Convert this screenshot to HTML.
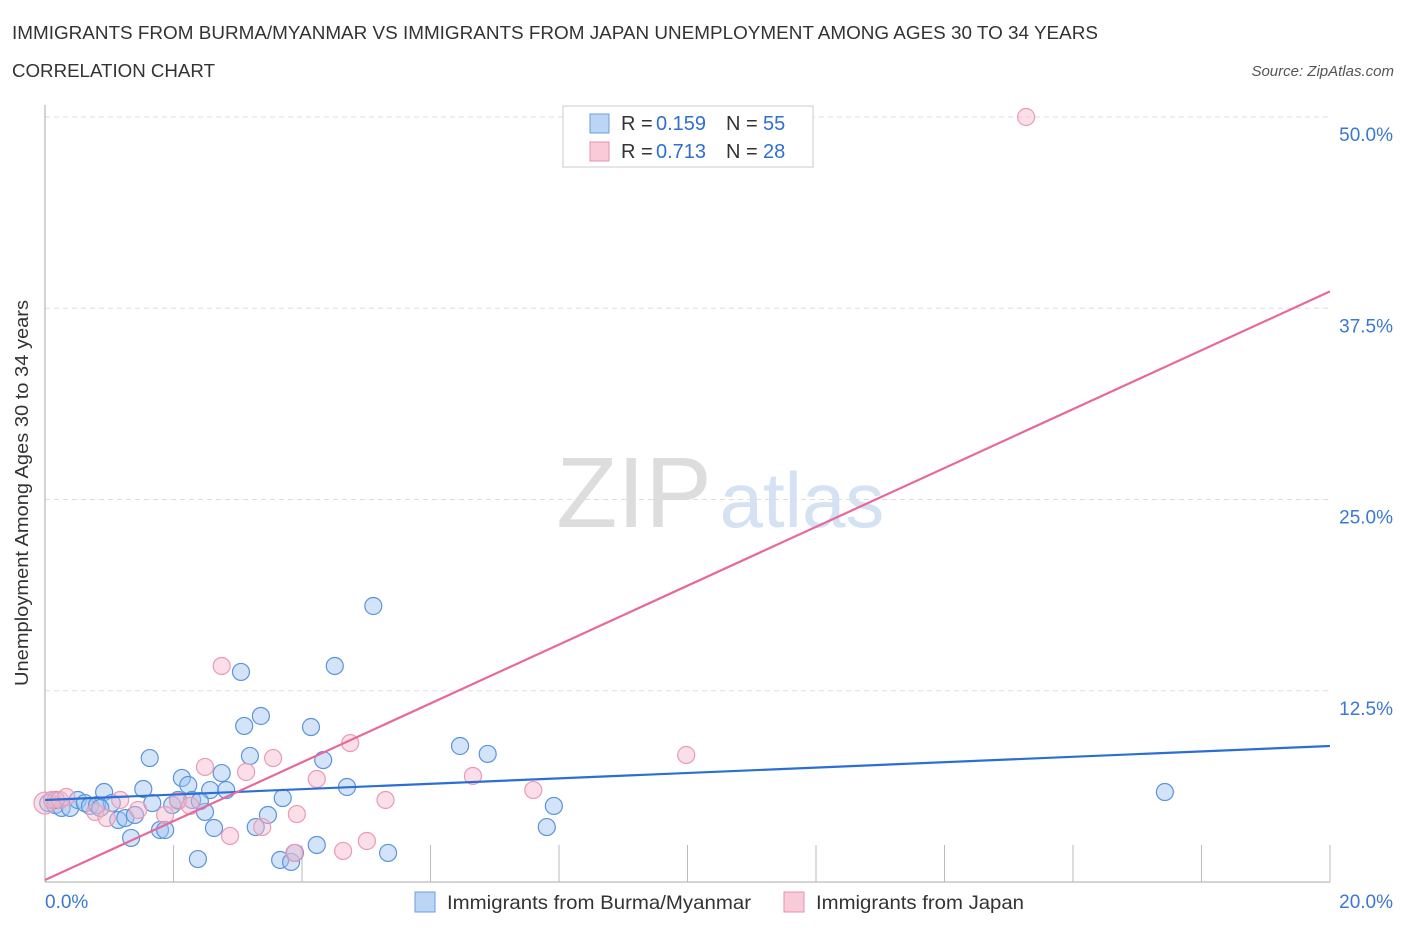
<!DOCTYPE html>
<html><head><meta charset="utf-8"><style>
body{margin:0;background:#fff;font-family:"Liberation Sans",sans-serif;}
svg text{font-family:"Liberation Sans",sans-serif;}
</style></head><body>
<svg id="c" width="1406" height="930" xmlns="http://www.w3.org/2000/svg">
<text x="12" y="39" font-size="18" fill="#333" textLength="1086" lengthAdjust="spacingAndGlyphs">IMMIGRANTS FROM BURMA/MYANMAR VS IMMIGRANTS FROM JAPAN UNEMPLOYMENT AMONG AGES 30 TO 34 YEARS</text>
<text x="12" y="77" font-size="18" fill="#333" textLength="203" lengthAdjust="spacingAndGlyphs">CORRELATION CHART</text>
<text x="1394" y="76" font-size="15" fill="#555" font-style="italic" text-anchor="end">Source: ZipAtlas.com</text>
<text x="634" y="527" font-size="100" fill="#ddd" font-family="Liberation Serif" text-anchor="middle">ZIP</text>
<text x="802" y="527" font-size="78" fill="#d4e2f4" text-anchor="middle">atlas</text>
<g id="grid"></g>
<g id="axes"></g>
<g id="marks"></g>
<text x="28" y="493" font-size="18" fill="#333" text-anchor="middle" textLength="386" lengthAdjust="spacingAndGlyphs" transform="rotate(-90 28 493)">Unemployment Among Ages 30 to 34 years</text>
<g>
<rect x="563" y="106" width="250" height="61" fill="#fff" stroke="#ccc"/>
<rect x="590" y="114" width="19" height="19" fill="#bcd5f5" stroke="#6a9ee0"/>
<text y="130" font-size="20" fill="#333"><tspan x="621">R = </tspan><tspan x="656" fill="#2f6fd0">0.159</tspan><tspan x="726">N = </tspan><tspan x="763" fill="#2f6fd0">55</tspan></text>
<rect x="590" y="142" width="19" height="19" fill="#f9cbd8" stroke="#e890aa"/>
<text y="158" font-size="20" fill="#333"><tspan x="621">R = </tspan><tspan x="656" fill="#2f6fd0">0.713</tspan><tspan x="726">N = </tspan><tspan x="763" fill="#2f6fd0">28</tspan></text>
</g>
<g>
<rect x="415" y="892" width="20" height="20" fill="#bcd5f5" stroke="#6a9ee0"/>
<text x="447" y="909" font-size="19.5" fill="#333" textLength="304" lengthAdjust="spacingAndGlyphs">Immigrants from Burma/Myanmar</text>
<rect x="784" y="892" width="20" height="20" fill="#f9cbd8" stroke="#e890aa"/>
<text x="816" y="909" font-size="19.5" fill="#333" textLength="208" lengthAdjust="spacingAndGlyphs">Immigrants from Japan</text>
</g>
</svg>
<script>
const yTicks=[12.5,25,37.5,50];
const yTickLabels=["12.5%","25.0%","37.5%","50.0%"];
const xTickLabels=["0.0%","20.0%"];
const blueX=[0.05,0.16,0.26,0.39,0.51,0.62,0.70,0.81,0.92,1.04,1.14,1.25,1.34,1.53,1.63,1.67,1.79,1.87,1.98,2.07,2.13,2.23,2.29,2.38,2.49,2.57,2.63,2.75,2.82,3.05,3.10,3.19,3.28,3.36,3.47,3.66,3.70,3.83,3.89,4.14,4.23,4.33,4.51,4.70,5.11,5.34,6.46,6.89,7.81,7.92,17.43,0.17,0.86,1.40,2.41];
const blueY=[5.16,5.03,4.84,4.84,5.36,5.16,4.97,5.03,5.88,5.16,4.05,4.18,2.88,6.08,8.10,5.16,3.40,3.40,5.03,5.36,6.80,6.34,5.36,1.50,4.58,6.01,3.53,7.12,6.01,13.73,10.20,8.24,3.59,10.85,4.38,1.44,5.49,1.31,1.90,10.13,2.42,7.97,14.12,6.21,18.04,1.90,8.89,8.37,3.59,4.97,5.88,5.36,4.84,4.38,5.29];
const pinkX=[0,0.11,0.23,0.33,0.78,0.96,1.17,1.45,1.87,2.07,2.26,2.49,2.75,2.88,3.13,3.38,3.55,3.92,4.23,4.64,4.75,5.01,5.30,6.66,7.60,9.98,15.27,3.88];
const pinkY=[5.16,5.36,5.36,5.56,4.58,4.18,5.36,4.71,4.38,5.29,4.97,7.52,14.12,3.01,7.19,3.59,8.10,4.44,6.73,2.03,9.08,2.68,5.36,6.93,6.01,8.30,50.0,1.90];
const blueLine=[5.36,8.89];
const pinkLine=[0.13,38.6];
const NS="http://www.w3.org/2000/svg";
const X0=45,X1=1330,Y0=882,YS=15.3;
function sx(v){return X0+v*(X1-X0)/20;}
function sy(v){return Y0-v*YS;}
function mk(t,a,p){const e=document.createElementNS(NS,t);for(const k in a)e.setAttribute(k,a[k]);document.getElementById(p).appendChild(e);return e;}
yTicks.forEach((t,i)=>{
 const g=mk('line',{x1:X0,x2:X1,y1:sy(t),y2:sy(t),stroke:'#ddd','stroke-dasharray':'5,4'},'grid');
 
 
 const l=mk('text',{x:1393,y:sy(t)+24,'font-size':19,fill:'#3a78d4','text-anchor':'end'},'axes');
 l.textContent=yTickLabels[i];
 
 
});
const ya=mk('line',{x1:X0,x2:X0,y1:105,y2:Y0,stroke:'#aaa'},'axes');


const xa=mk('line',{x1:X0,x2:X1,y1:Y0,y2:Y0,stroke:'#aaa'},'axes');


for(let i=1;i<=10;i++){
 const t=mk('line',{x1:sx(i*2),x2:sx(i*2),y1:845,y2:Y0,stroke:'#bbb'},'axes');
 
 
}
[[0,'start',45],[20,'end',1393]].forEach((d,i)=>{
 const l=mk('text',{x:d[2],y:908,'font-size':19,fill:'#3a78d4','text-anchor':d[1]},'axes');
 l.textContent=xTickLabels[i];
 
 
});
blueX.forEach((v,i)=>{
 const c=mk('circle',{cx:sx(v),cy:sy(blueY[i]),r:8.5,fill:'rgba(160,196,240,0.45)',stroke:'#5b93dc','stroke-width':1.2},'marks');
 
 
});
pinkX.forEach((v,i)=>{
 const c=mk('circle',{cx:sx(v),cy:sy(pinkY[i]),r:i==0?11:8.5,fill:'rgba(247,185,204,0.45)',stroke:'#ec9ab3','stroke-width':1.2},'marks');
 
 
});
const bl=mk('line',{x1:sx(0),x2:sx(20),y1:sy(blueLine[0]),y2:sy(blueLine[1]),stroke:'#2b6fd6','stroke-width':2.2},'marks');


const pl=mk('line',{x1:sx(0),x2:sx(20),y1:sy(pinkLine[0]),y2:sy(pinkLine[1]),stroke:'#e7689a','stroke-width':2.2},'marks');


</script>
</body></html>
